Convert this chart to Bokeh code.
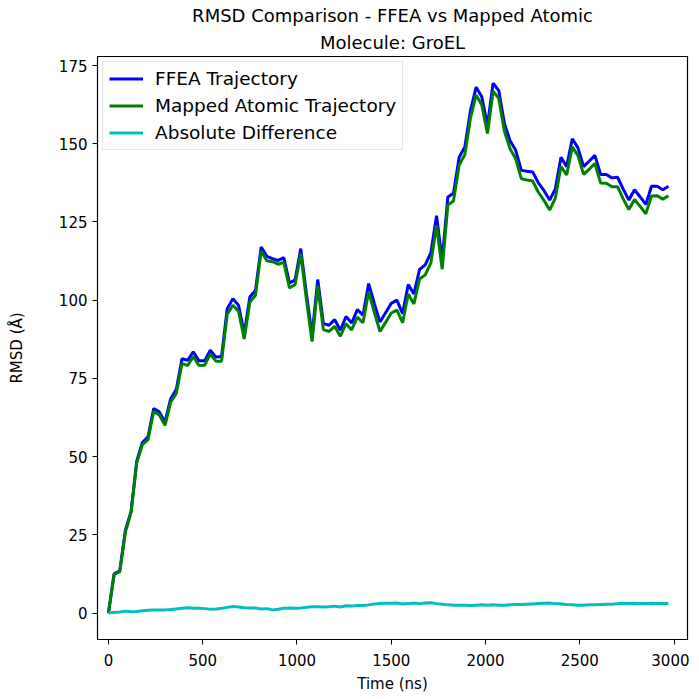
from bokeh.plotting import figure
from bokeh.models import Range1d, Legend, LegendItem, FixedTicker, Title
from bokeh.embed import file_html
from bokeh.resources import INLINE

time_ns = list(range(0, 3000, 30))

ffea = [0, 12.5, 13.5, 26.5, 32.5, 48.5, 54.5, 56.3, 65.4, 64.3,
        61.0, 68.5, 71.5, 81.3, 80.8, 83.5, 80.6, 80.6, 84.0, 81.8,
        82.0, 97.3, 100.5, 98.4, 89.3, 101.0, 103.2, 117.0, 114.0, 113.3,
        112.7, 113.6, 105.5, 106.5, 116.5, 102.0, 88.8, 106.6, 92.5, 92.0,
        93.8, 90.4, 94.8, 92.7, 97.0, 95.2, 105.3, 99.0, 93.0, 96.0,
        99.0, 100.0, 95.7, 105.0, 102.0, 109.8, 111.3, 115.2, 127.0, 112.7,
        133.0, 134.2, 145.7, 149.0, 160.6, 168.1, 165.0, 155.8, 169.4, 167.0,
        156.5, 151.0, 147.9, 141.5, 141.2, 141.0, 137.5, 135.0, 132.0, 135.6,
        145.7, 142.7, 151.6, 148.7, 142.7, 144.5, 146.3, 140.2, 140.2, 139.1,
        139.3, 135.5, 132.0, 135.3, 133.0, 130.6, 136.4, 136.4, 135.3, 136.4]

mapped = [0, 12.3, 13.2, 25.9, 32.1, 48.0, 53.8, 55.4, 64.4, 63.3,
          60.0, 67.4, 70.2, 79.8, 79.1, 82.0, 79.1, 79.2, 82.8, 80.5,
          80.5, 95.5, 98.4, 96.5, 87.6, 99.4, 101.6, 115.7, 112.6, 112.3,
          111.5, 112.1, 103.9, 105.0, 114.9, 100.2, 86.8, 104.6, 90.6, 90.0,
          91.6, 88.5, 92.5, 90.5, 94.6, 92.8, 102.7, 96.1, 90.0, 92.9,
          95.9, 96.8, 92.8, 102.0, 98.8, 106.8, 108.1, 111.9, 124.0, 109.9,
          130.4, 131.7, 143.2, 146.5, 158.2, 165.6, 162.4, 153.3, 166.8, 164.5,
          154.0, 148.4, 145.2, 138.8, 138.4, 138.1, 134.5, 131.9, 128.8, 132.6,
          142.8, 140.0, 149.0, 146.2, 140.2, 141.9, 143.7, 137.5, 137.4, 136.3,
          136.3, 132.4, 129.0, 132.2, 130.0, 127.6, 133.3, 133.4, 132.3, 133.4]

abs_diff = [0, 0.2, 0.3, 0.6, 0.4, 0.5, 0.7, 0.9, 1.0, 1.0,
            1.0, 1.1, 1.3, 1.5, 1.7, 1.5, 1.5, 1.4, 1.2, 1.3,
            1.5, 1.8, 2.1, 1.9, 1.7, 1.6, 1.6, 1.3, 1.4, 1.0,
            1.2, 1.5, 1.6, 1.5, 1.6, 1.8, 2.0, 2.0, 1.9, 2.0,
            2.2, 1.9, 2.3, 2.2, 2.4, 2.4, 2.6, 2.9, 3.0, 3.1,
            3.1, 3.2, 2.9, 3.0, 3.2, 3.0, 3.2, 3.3, 3.0, 2.8,
            2.6, 2.5, 2.5, 2.5, 2.4, 2.5, 2.6, 2.5, 2.6, 2.5,
            2.5, 2.6, 2.7, 2.7, 2.8, 2.9, 3.0, 3.1, 3.2, 3.0,
            2.9, 2.7, 2.6, 2.5, 2.5, 2.6, 2.6, 2.7, 2.8, 2.8,
            3.0, 3.1, 3.0, 3.1, 3.0, 3.0, 3.1, 3.0, 3.0, 3.0]

x_ticks = [0, 500, 1000, 1500, 2000, 2500, 3000]
y_ticks = [0, 25, 50, 75, 100, 125, 150, 175]
title_lines = ["RMSD Comparison - FFEA vs Mapped Atomic", "Molecule: GroEL"]

FONT = "DejaVu Sans"

p = figure(frame_width=590, frame_height=583, output_backend="svg", toolbar_location=None,
           x_range=Range1d(-58, 3071), y_range=Range1d(-8.47, 177.9),
           min_border_left=97, min_border_right=2, min_border_top=56, min_border_bottom=56)

p.title.visible = False
for i, txt in enumerate(reversed(title_lines)):
    t = Title(text=txt, align="center", text_font=FONT, text_font_size="18px",
              text_font_style="normal", text_color="black", offset=0,
              standoff=8 if i == 0 else 0)
    p.add_layout(t, "above")

p.grid.visible = False
p.outline_line_color = "black"
p.outline_line_width = 1.2

for ax in (p.xaxis[0], p.yaxis[0]):
    ax.major_label_text_font = FONT
    ax.major_label_text_font_size = "15px"
    ax.major_label_text_color = "black"
    ax.axis_label_text_font = FONT
    ax.axis_label_text_font_size = "15px"
    ax.axis_label_text_font_style = "normal"
    ax.axis_label_text_color = "black"
    ax.minor_tick_line_color = None
    ax.major_tick_out = 5
    ax.major_tick_in = 0
    ax.major_tick_line_color = "black"
    ax.axis_line_color = "black"

p.xaxis.ticker = FixedTicker(ticks=x_ticks)
p.yaxis.ticker = FixedTicker(ticks=y_ticks)
p.xaxis.major_label_standoff = 9
p.xaxis.axis_label = "Time (ns)"
p.yaxis.axis_label = "RMSD (Å)"
p.xaxis.axis_label_standoff = 6
p.yaxis.axis_label_standoff = 30

r1 = p.line(time_ns, ffea, line_color="#0000ff", line_width=3)
r2 = p.line(time_ns, mapped, line_color="#008000", line_width=3)
r3 = p.line(time_ns, abs_diff, line_color="#00bfbf", line_width=3)

legend = Legend(items=[
    LegendItem(label="FFEA Trajectory", renderers=[r1]),
    LegendItem(label="Mapped Atomic Trajectory", renderers=[r2]),
    LegendItem(label="Absolute Difference", renderers=[r3]),
], location="top_left")
legend.label_text_font = FONT
legend.label_text_font_size = "18.5px"
legend.label_text_color = "black"
legend.glyph_width = 34
legend.glyph_height = 21
legend.label_height = 21
legend.label_standoff = 12
legend.spacing = 6
legend.padding = 6
legend.margin = 5
legend.border_line_color = "#cccccc"
legend.border_line_width = 1
legend.background_fill_alpha = 0.8
p.add_layout(legend)

open("out.html", "w").write(file_html(p, INLINE))
